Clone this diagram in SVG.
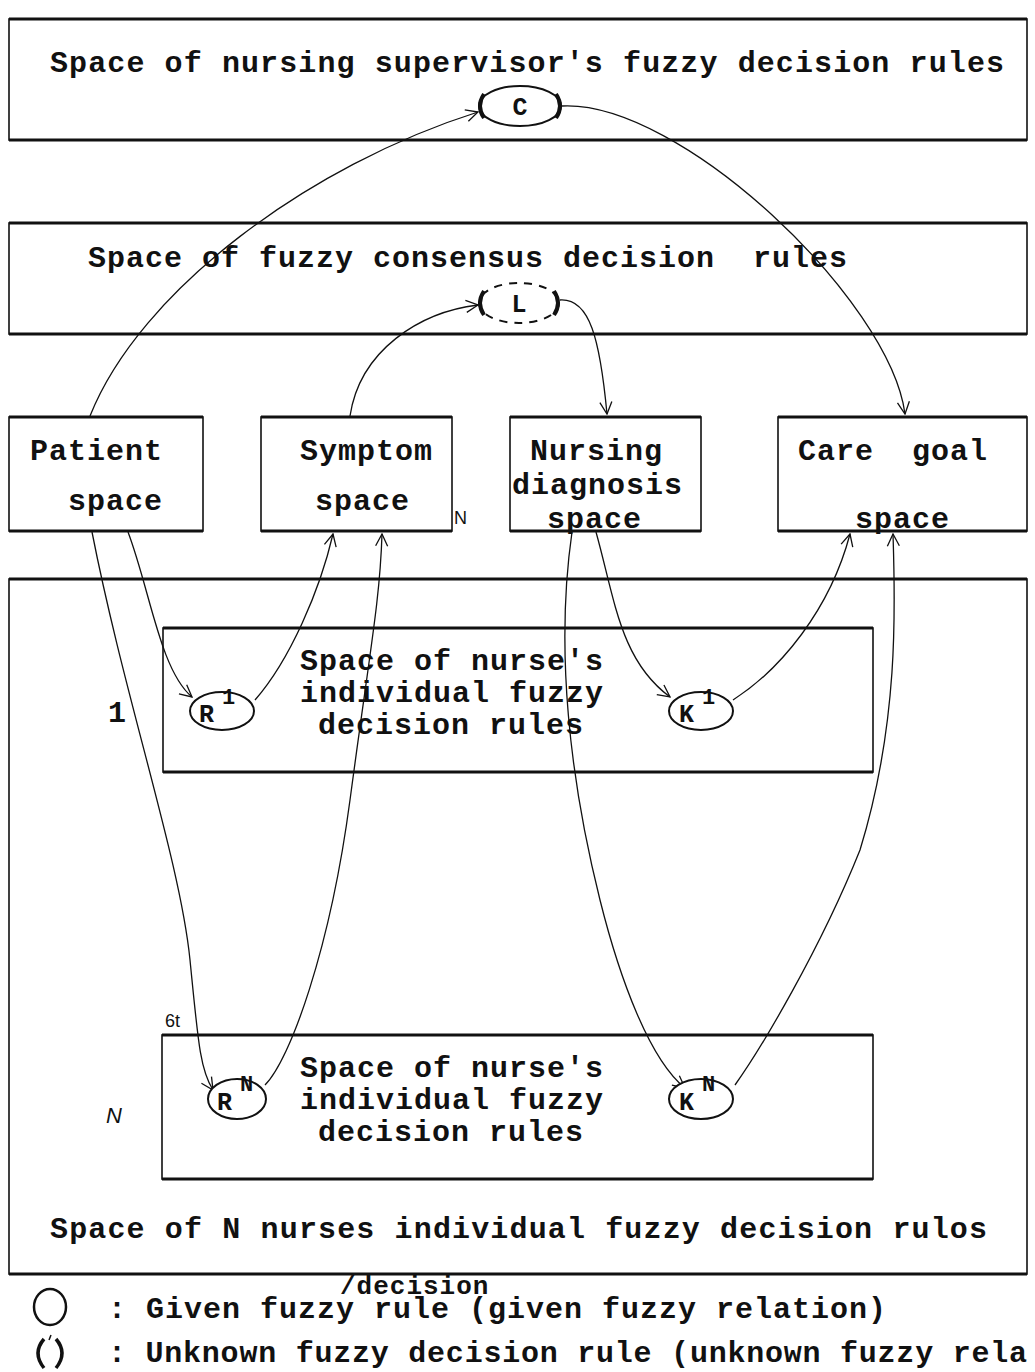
<svg xmlns="http://www.w3.org/2000/svg" width="1035" height="1372" viewBox="0 0 1035 1372">
<defs>
<style>
.box{fill:none;stroke:#111;stroke-width:1.6}
.edge{stroke:#111;stroke-width:3.2}
.t{font-family:"Liberation Mono","DejaVu Sans Mono",monospace;font-weight:bold;font-size:30px;letter-spacing:1px;fill:#111}
.s{font-family:"Liberation Mono","DejaVu Sans Mono",monospace;font-weight:bold;font-size:25px;fill:#111}
.sup{font-family:"Liberation Mono","DejaVu Sans Mono",monospace;font-weight:bold;font-size:22px;fill:#111}
.thin{font-family:"Liberation Sans","DejaVu Sans",sans-serif;font-size:18px;fill:#111}
.conn{fill:none;stroke:#111;stroke-width:1.3}
.ell{fill:#fff;stroke:#111;stroke-width:2}
.side{fill:none;stroke:#111;stroke-width:4}
</style>
<marker id="arr" viewBox="0 0 14 14" refX="13" refY="7" markerWidth="14" markerHeight="14" markerUnits="userSpaceOnUse" orient="auto">
<path d="M1 1 L13 7 L1 13" fill="none" stroke="#111" stroke-width="1.3"/>
</marker>
</defs>

<g id="supervisor-space">
<rect class="box" x="9" y="19" width="1018" height="121"/>
<line class="edge" x1="9" y1="19" x2="1027" y2="19"/>
<line class="edge" x1="9" y1="140" x2="1027" y2="140"/>
<text class="t" x="50" y="72" textLength="955">Space of nursing supervisor's fuzzy decision rules</text>
</g>

<g id="consensus-space">
<rect class="box" x="9" y="223" width="1018" height="111"/>
<line class="edge" x1="9" y1="223" x2="1027" y2="223"/>
<line class="edge" x1="9" y1="334" x2="1027" y2="334"/>
<text class="t" x="88" y="267" xml:space="preserve">Space of fuzzy consensus decision  rules</text>
</g>

<g id="patient-space">
<rect class="box" x="9" y="417" width="194" height="114"/>
<line class="edge" x1="9" y1="417" x2="203" y2="417"/>
<line class="edge" x1="9" y1="531" x2="203" y2="531"/>
<text class="t" x="30" y="460">Patient</text>
<text class="t" x="68" y="510">space</text>
</g>

<g id="symptom-space">
<rect class="box" x="261" y="417" width="191" height="114"/>
<line class="edge" x1="261" y1="417" x2="452" y2="417"/>
<line class="edge" x1="261" y1="531" x2="452" y2="531"/>
<text class="t" x="300" y="460">Symptom</text>
<text class="t" x="315" y="510">space</text>
<text class="thin" x="454" y="524">N</text>
</g>

<g id="nursing-diagnosis-space">
<rect class="box" x="510" y="417" width="191" height="114"/>
<line class="edge" x1="510" y1="417" x2="701" y2="417"/>
<line class="edge" x1="510" y1="531" x2="701" y2="531"/>
<text class="t" x="530" y="460">Nursing</text>
<text class="t" x="512" y="494">diagnosis</text>
<text class="t" x="547" y="528">space</text>
</g>

<g id="care-goal-space">
<rect class="box" x="778" y="417" width="249" height="114"/>
<line class="edge" x1="778" y1="417" x2="1027" y2="417"/>
<line class="edge" x1="778" y1="531" x2="1027" y2="531"/>
<text class="t" x="798" y="460">Care</text>
<text class="t" x="912" y="460">goal</text>
<text class="t" x="855" y="528">space</text>
</g>

<g id="n-nurses-space">
<rect class="box" x="9" y="579" width="1018" height="695"/>
<line class="edge" x1="9" y1="579" x2="1027" y2="579"/>
<line class="edge" x1="9" y1="1274" x2="1027" y2="1274"/>
<text class="t" x="50" y="1238" textLength="938">Space of N nurses individual fuzzy decision rulos</text>
<text class="t" x="108" y="722">1</text>
<text class="thin" x="106" y="1123" style="font-size:22px;font-style:italic">N</text>
</g>

<g id="nurse-1-space">
<rect class="box" x="163" y="628" width="710" height="144"/>
<line class="edge" x1="163" y1="628" x2="873" y2="628"/>
<line class="edge" x1="163" y1="772" x2="873" y2="772"/>
<text class="t" x="300" y="670">Space of nurse's</text>
<text class="t" x="300" y="702">individual fuzzy</text>
<text class="t" x="318" y="734">decision rules</text>
</g>

<g id="nurse-N-space">
<rect class="box" x="162" y="1035" width="711" height="144"/>
<line class="edge" x1="162" y1="1035" x2="873" y2="1035"/>
<line class="edge" x1="162" y1="1179" x2="873" y2="1179"/>
<text class="t" x="300" y="1077">Space of nurse's</text>
<text class="t" x="300" y="1109">individual fuzzy</text>
<text class="t" x="318" y="1141">decision rules</text>
<text class="thin" x="165" y="1027">6t</text>
</g>

<g id="connectors">
<path class="conn" marker-end="url(#arr)" d="M90 416 C140 290, 310 165, 478 112"/>
<path class="conn" marker-end="url(#arr)" d="M562 106 C680 100, 890 300, 905 414"/>
<path class="conn" marker-end="url(#arr)" d="M350 416 C360 350, 420 312, 478 305"/>
<path class="conn" marker-end="url(#arr)" d="M560 300 C590 298, 600 340, 607 414"/>
<path class="conn" marker-end="url(#arr)" d="M128 532 C150 590, 160 670, 192 697"/>
<path class="conn" marker-end="url(#arr)" d="M255 700 C290 660, 320 590, 333 534"/>
<path class="conn" marker-end="url(#arr)" d="M92 532 C125 700, 180 860, 190 960 C198 1040, 200 1070, 213 1090"/>
<path class="conn" marker-end="url(#arr)" d="M265 1085 C290 1060, 330 950, 350 800 C370 650, 380 600, 382 534"/>
<path class="conn" marker-end="url(#arr)" d="M596 532 C615 600, 620 660, 670 697"/>
<path class="conn" marker-end="url(#arr)" d="M733 700 C780 670, 830 610, 850 534"/>
<path class="conn" marker-end="url(#arr)" d="M572 532 C555 650, 570 780, 600 900 C620 980, 650 1060, 685 1088"/>
<path class="conn" marker-end="url(#arr)" d="M735 1085 C760 1050, 820 950, 860 850 C900 720, 895 600, 893 534"/>
</g>

<g id="C">
<ellipse class="ell" cx="520" cy="106" rx="41" ry="20"/>
<path class="side" d="M484 94 Q476 106 484 118"/>
<path class="side" d="M556 94 Q564 106 556 118"/>
<text class="s" x="520" y="115" text-anchor="middle">C</text>
</g>

<g id="L">
<ellipse cx="519" cy="303" rx="40" ry="20" fill="#fff" stroke="#111" stroke-width="2" stroke-dasharray="8 7"/>
<path class="side" d="M484 291 Q476 303 484 315"/>
<path class="side" d="M554 291 Q562 303 554 315"/>
<text class="s" x="519" y="312" text-anchor="middle">L</text>
</g>

<g id="R1">
<ellipse class="ell" cx="222" cy="711" rx="32" ry="19"/>
<text class="s" x="199" y="722">R</text>
<text class="sup" x="222" y="704">1</text>
</g>

<g id="K1">
<ellipse class="ell" cx="701" cy="711" rx="32" ry="19"/>
<text class="s" x="679" y="722">K</text>
<text class="sup" x="702" y="704">1</text>
</g>

<g id="RN">
<ellipse class="ell" cx="237" cy="1099" rx="29" ry="20"/>
<text class="s" x="217" y="1110">R</text>
<text class="sup" x="240" y="1091">N</text>
</g>

<g id="KN">
<ellipse class="ell" cx="701" cy="1099" rx="32" ry="20"/>
<text class="s" x="679" y="1110">K</text>
<text class="sup" x="702" y="1091">N</text>
</g>

<g id="legend">
<ellipse cx="50" cy="1307" rx="16" ry="18" fill="none" stroke="#111" stroke-width="2.5"/>
<text class="t" x="108" y="1318">: Given fuzzy rule (given fuzzy relation)</text>
<text class="t" x="340" y="1294" style="font-size:26px">/decision</text>
<path d="M44 1339 Q32 1353 44 1368" fill="none" stroke="#111" stroke-width="3.5"/>
<path d="M56 1339 Q68 1353 56 1368" fill="none" stroke="#111" stroke-width="3.5"/>
<path d="M49 1340 L51 1335" stroke="#111" stroke-width="1.5"/>
<text class="t" x="108" y="1362" textLength="920">: Unknown fuzzy decision rule (unknown fuzzy rela</text>
</g>
</svg>
